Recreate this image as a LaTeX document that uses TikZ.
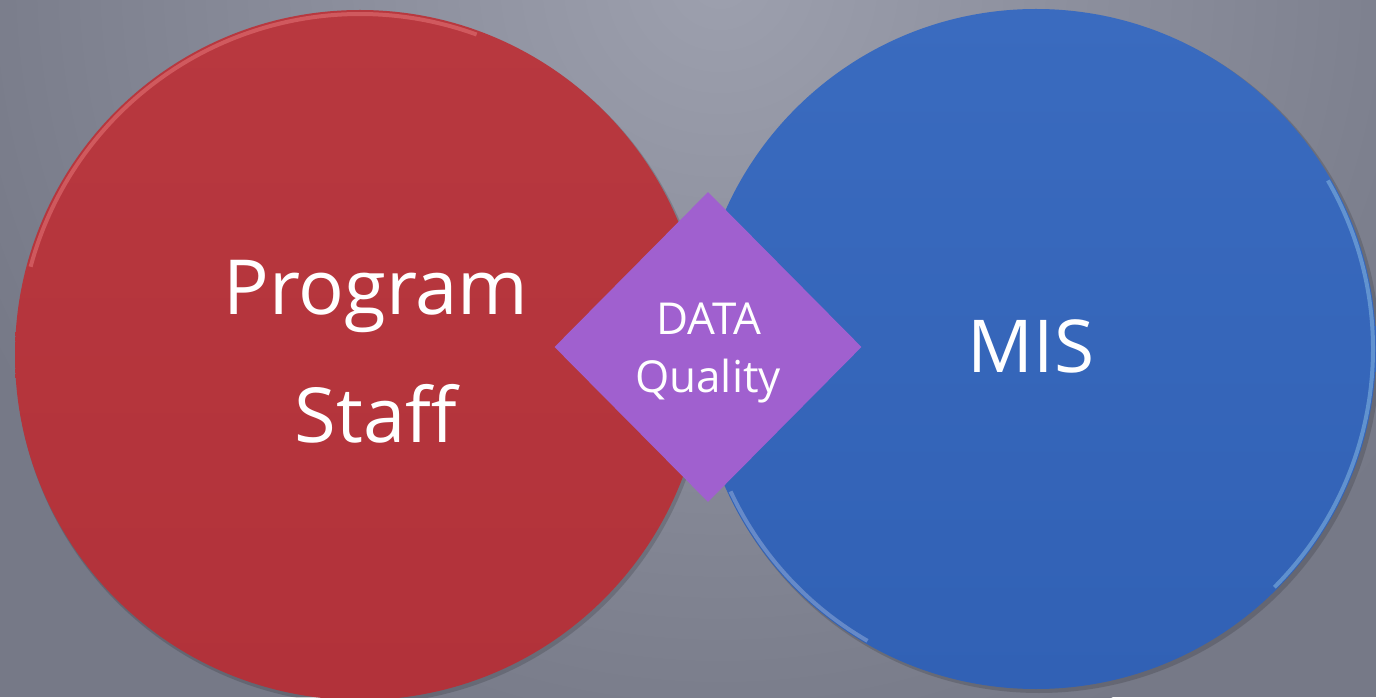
\documentclass[tikz,border=0pt]{standalone}
\usepackage{fontspec}
\setmainfont{Open Sans}
\usetikzlibrary{shapes.geometric}
\definecolor{bglight}{HTML}{9DA0AE}
\definecolor{bgdark}{HTML}{767987}
\definecolor{redfill}{HTML}{B2323A}
\definecolor{redtop}{HTML}{B8383F}
\definecolor{bluefill}{HTML}{3161B5}
\definecolor{bluetop}{HTML}{3A6BBF}
\definecolor{purplefill}{HTML}{A060CF}
\tikzset{
  bigtext/.style={text=white, font=\fontsize{76}{90}\selectfont, inner sep=0pt, anchor=base},
  midtext/.style={text=white, font=\fontsize{73}{88}\selectfont, inner sep=0pt, anchor=base},
  smalltext/.style={text=white, font=\fontsize{44}{52}\selectfont, inner sep=0pt, anchor=base},
  rim/.style={line width=4pt, opacity=0.35}
}
\begin{document}
\begin{tikzpicture}[x=1pt,y=1pt]
\useasboundingbox (0,0) rectangle (1376,697);
\begin{scope}
\clip (0,0) rectangle (1376,697);
\fill[bgdark] (0,0) rectangle (1376,697);
\shade[inner color=bglight, outer color=bgdark] (720,720) circle (820);
% soft shadows
\fill[black, opacity=0.15] (362,339) circle (346);
\fill[black, opacity=0.15] (1039,345) circle (341);
% red circle
\shade[top color=redtop, bottom color=redfill] (360,342) circle (345);
\draw[rim, white!60!red] (360,342) ++(165:341) arc (165:70:341);
% blue circle
\shade[top color=bluetop, bottom color=bluefill] (1036,348) circle (340);
\draw[rim, white!70!cyan] (1036,348) ++(30:337) arc (30:-45:337);
\draw[rim, white, opacity=0.25] (1036,348) ++(205:337) arc (205:240:337);
\end{scope}
% diamond
\node[diamond, fill=purplefill, minimum width=307pt, minimum height=310pt, inner sep=0pt, aspect=1] (dq) at (708,350) {};
% texts
\node[bigtext] (prog) at (376,382) {Program};
\node[bigtext] (staff) at (376,255) {Staff};
\node[midtext] (mis) at (1031,324) {MIS};
\node[smalltext] (data) at (709,362) {DATA};
\node[smalltext] (qual) at (708,305) {Quality};
\end{tikzpicture}
\end{document}
